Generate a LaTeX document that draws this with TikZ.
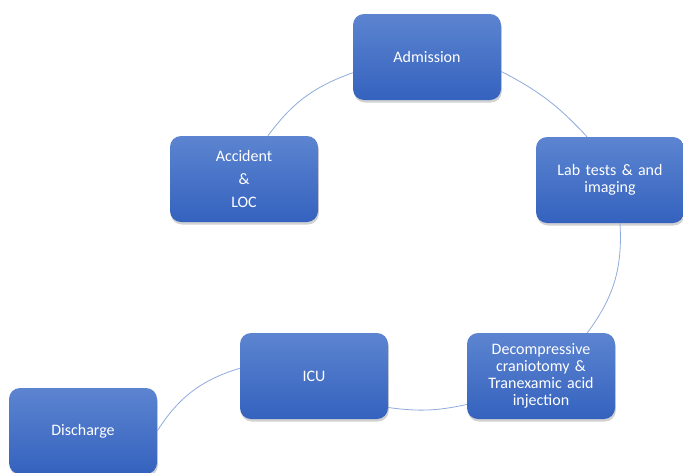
\documentclass[tikz,border=0pt]{standalone}
\usepackage{fontspec}
\setmainfont{Carlito}
\usetikzlibrary{shadows}
\definecolor{boxtop}{RGB}{92,132,208}
\definecolor{boxbot}{RGB}{52,98,190}
\definecolor{linkc}{RGB}{143,170,220}
\tikzset{
  stagebox/.style={rectangle, rounded corners=11pt, top color=boxtop, bottom color=boxbot,
    draw=none, minimum width=148pt, minimum height=86pt, text width=138pt, inner sep=0pt,
    align=center, text=white, font=\fontsize{16}{17}\selectfont,
    drop shadow={shadow xshift=0.8pt, shadow yshift=-2.5pt, opacity=0.3, fill=black!60}},
  link/.style={draw=linkc, line width=0.8pt}
}
\begin{document}
\begin{tikzpicture}[x=1pt,y=1pt]
\useasboundingbox (0,0) rectangle (683,-472);
\node[stagebox] (adm) at (427,-57) {Admission};
\node[stagebox] (acc) at (244,-179) {Accident\\[6pt]\&\\[6pt]LOC};
\node[stagebox] (lab) at (610,-180) {Lab tests \& and\\imaging};
\node[stagebox] (dec) at (541,-376) {Decompressive\\craniotomy \&\\Tranexamic acid\\injection};
\node[stagebox] (icu) at (314,-376) {ICU};
\node[stagebox] (dis) at (83,-431) {Discharge};
\draw[link] (acc.61) to[bend left=17] (adm.-168);
\draw[link] (adm.-11) to[bend left=10] (lab.118);
\draw[link] (lab.-77) to[bend left=20] (dec.43);
\draw[link] (dec.-159) to[bend left=10] (icu.-23);
\draw[link] (icu.174) to[bend right=20] (dis.east);
\end{tikzpicture}
\end{document}
